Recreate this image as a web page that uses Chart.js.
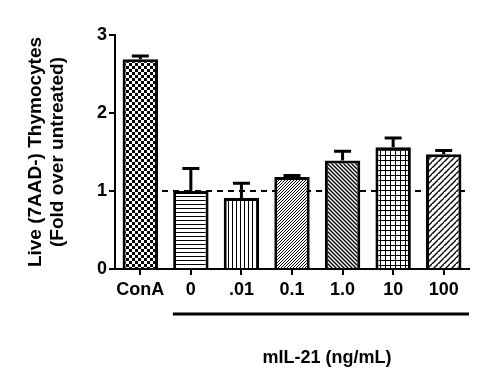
<!DOCTYPE html>
<html>
<head>
<meta charset="utf-8">
<script src="https://cdn.jsdelivr.net/npm/chart.js@4"></script>
<style>
  html, body { margin: 0; padding: 0; background: #fff; }
</style>
</head>
<body>
<canvas id="chart" width="500" height="375"></canvas>
<script>
const categories = ['ConA', '0', '.01', '0.1', '1.0', '10', '100'];
const means = [2.69, 1.00, 0.91, 1.18, 1.39, 1.56, 1.47];
const errors = [0.04, 0.29, 0.19, 0.02, 0.12, 0.12, 0.05];
const yTicks = [0, 1, 2, 3];
const baseline = 1;
const groupLabel = 'mIL-21 (ng/mL)';

// hatch fills, one per bar
function makePattern(kind) {
  const c = document.createElement('canvas');
  const s = { check: 6, horiz: 4, vert: 4, fwd: 3, back: 4, grid: 5, dash: 6 }[kind];
  c.width = s; c.height = s;
  const g = c.getContext('2d');
  g.fillStyle = '#fff';
  g.fillRect(0, 0, s, s);
  g.fillStyle = '#000';
  g.strokeStyle = '#000';
  if (kind === 'check') {
    g.fillRect(0, 0, 3, 3);
    g.fillRect(3, 3, 3, 3);
  } else if (kind === 'horiz') {
    g.fillRect(0, 0, s, 1);
  } else if (kind === 'vert') {
    g.fillRect(0, 0, 1, s);
  } else if (kind === 'grid') {
    g.fillRect(0, 0, s, 1);
    g.fillRect(0, 0, 1, s);
  } else {
    g.lineWidth = kind === 'fwd' ? 1 : 1.4;
    const lines = kind === 'back'
      ? [[0, 0, s, s], [-1, s - 1, 1, s + 1], [s - 1, -1, s + 1, 1]]
      : [[0, s, s, 0], [-1, 1, 1, -1], [s - 1, s + 1, s + 1, s - 1]];
    g.beginPath();
    lines.forEach(l => { g.moveTo(l[0], l[1]); g.lineTo(l[2], l[3]); });
    g.stroke();
    if (kind === 'dash') {
      g.fillStyle = '#fff';
      g.fillRect(0, 0, 2, 2);
    }
  }
  return g.createPattern(c, 'repeat');
}

const fills = ['check', 'horiz', 'vert', 'fwd', 'back', 'grid', 'dash'].map(makePattern);

const extras = {
  id: 'extras',
  beforeDatasetsDraw(chart) {
    // dashed reference line sits behind the bars
    const ctx = chart.ctx;
    const x = chart.scales.x;
    const y = chart.scales.y;
    ctx.save();
    ctx.strokeStyle = '#000';
    ctx.lineWidth = 2;
    ctx.setLineDash([6, 5]);
    ctx.beginPath();
    ctx.moveTo(x.getPixelForValue(0.43), y.getPixelForValue(baseline));
    ctx.lineTo(chart.chartArea.right, y.getPixelForValue(baseline));
    ctx.stroke();
    ctx.restore();
  },
  afterDatasetsDraw(chart) {
    const ctx = chart.ctx;
    const x = chart.scales.x;
    const y = chart.scales.y;
    const area = chart.chartArea;
    ctx.save();
    ctx.strokeStyle = '#000';
    // upper error bars
    ctx.lineWidth = 3;
    means.forEach((m, i) => {
      const cx = x.getPixelForValue(i);
      const y0 = y.getPixelForValue(m);
      const y1 = y.getPixelForValue(m + errors[i]);
      ctx.beginPath();
      ctx.moveTo(cx, y0);
      ctx.lineTo(cx, y1);
      ctx.moveTo(cx - 8.5, y1);
      ctx.lineTo(cx + 8.5, y1);
      ctx.stroke();
    });
    // group bracket + label
    const left = x.getPixelForValue(1) - 18;
    ctx.beginPath();
    ctx.moveTo(left, area.bottom + 45);
    ctx.lineTo(area.right, area.bottom + 45);
    ctx.stroke();
    ctx.fillStyle = '#000';
    ctx.font = 'bold 18px "Liberation Sans", Arial, sans-serif';
    ctx.textAlign = 'center';
    ctx.textBaseline = 'middle';
    ctx.fillText(groupLabel, (left + area.right) / 2 + 6, area.bottom + 89);
    ctx.restore();
  }
};

new Chart(document.getElementById('chart'), {
  type: 'bar',
  data: {
    labels: categories,
    datasets: [{
      data: means,
      backgroundColor: fills,
      borderColor: '#000',
      borderWidth: 3,
      categoryPercentage: 1,
      barPercentage: 0.7
    }]
  },
  plugins: [extras],
  options: {
    responsive: false,
    animation: false,
    devicePixelRatio: 1,
    layout: { padding: { left: 0, right: 31, top: 35, bottom: 0 } },
    plugins: { legend: { display: false }, tooltip: { enabled: false } },
    scales: {
      x: {
        afterFit(s) { s.height = 106; },
        grid: { display: true, drawOnChartArea: false, offset: false, color: '#000', lineWidth: 2, tickLength: 6 },
        border: { color: '#000', width: 2 },
        ticks: { color: '#000', padding: 4, maxRotation: 0, autoSkip: false, font: { family: '"Liberation Sans", Arial, sans-serif', size: 18, weight: 'bold' } }
      },
      y: {
        min: 0,
        max: 3,
        afterFit(s) { s.width = 115; },
        afterBuildTicks(s) { s.ticks = yTicks.map(v => ({ value: v })); },
        grid: { display: true, drawOnChartArea: false, color: '#000', lineWidth: 2, tickLength: 6 },
        border: { color: '#000', width: 2 },
        ticks: { color: '#000', padding: 2, font: { family: '"Liberation Sans", Arial, sans-serif', size: 18, weight: 'bold' } },
        title: {
          display: true,
          text: ['Live (7AAD-) Thymocytes', '(Fold over untreated)'],
          color: '#000',
          padding: { top: 24, bottom: 0 },
          font: { family: '"Liberation Sans", Arial, sans-serif', size: 19, weight: 'bold', lineHeight: 1.2 }
        }
      }
    }
  }
});
</script>
</body>
</html>
